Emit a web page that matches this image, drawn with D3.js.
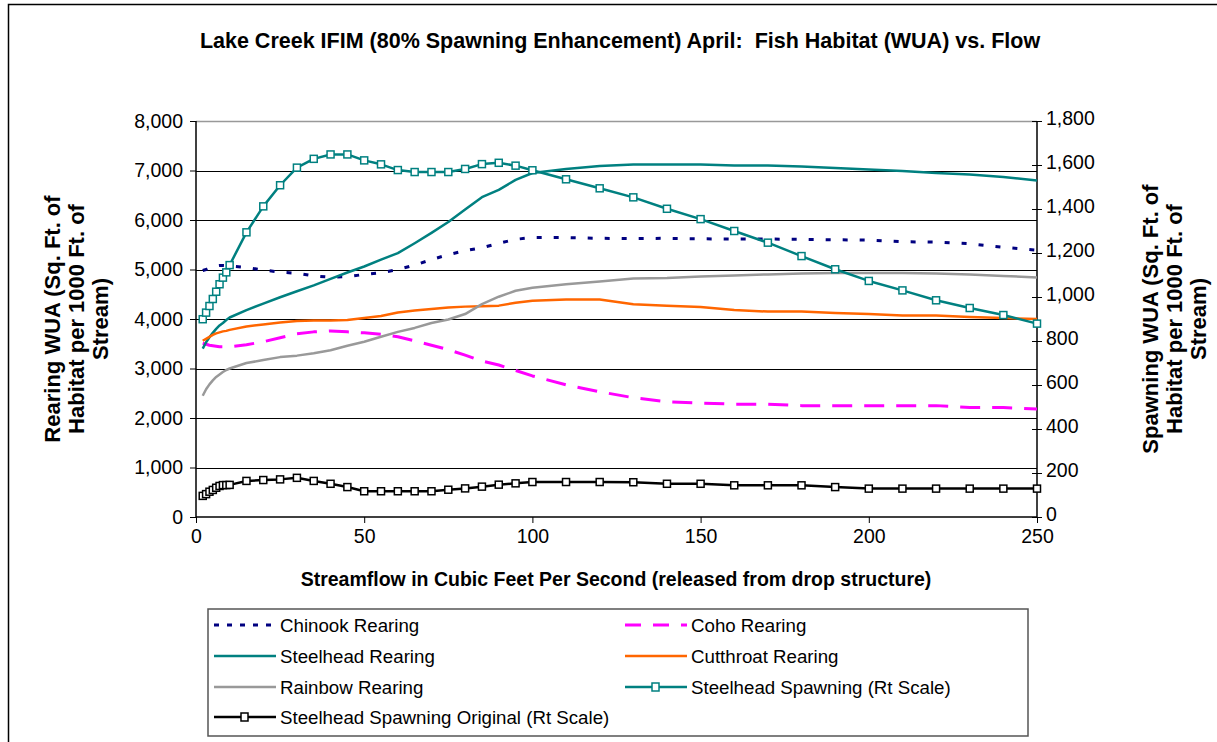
<!DOCTYPE html>
<html>
<head>
<meta charset="utf-8">
<script src="https://cdn.jsdelivr.net/npm/d3@7"></script>
<style>
  html, body { margin: 0; padding: 0; background: #fff; }
  svg { display: block; font-family: "Liberation Sans", Arial, sans-serif; }
</style>
</head>
<body>
<svg id="chart" width="1217" height="742"></svg>
<script>
// Streamflow (cfs) at which every habitat series was evaluated
const flows = [2, 3, 4, 5, 6, 7, 8, 9, 10, 15, 20, 25, 30, 35, 40, 45, 50, 55, 60, 65, 70, 75,
  80, 85, 90, 95, 100, 110, 120, 130, 140, 150, 160, 170, 180, 190, 200, 210, 220, 230, 240, 250];

// Rearing WUA (left scale)
const chinookRearing = [4980, 5000, 5030, 5050, 5070, 5080, 5080, 5075, 5070, 5040, 4990, 4945, 4925,
  4870, 4845, 4855, 4900, 4935, 5000, 5090, 5200, 5300, 5380, 5440, 5530, 5610, 5645, 5645, 5630,
  5625, 5630, 5620, 5615, 5615, 5610, 5600, 5595, 5560, 5555, 5520, 5450, 5390];
const cohoRearing = [3510, 3490, 3470, 3460, 3450, 3440, 3440, 3440, 3440, 3480, 3540, 3620, 3700,
  3740, 3760, 3740, 3720, 3690, 3640, 3560, 3470, 3380, 3270, 3150, 3070, 2960, 2850, 2670, 2530,
  2410, 2330, 2300, 2280, 2280, 2250, 2250, 2250, 2250, 2250, 2210, 2210, 2180];
const steelheadRearing = [3400, 3530, 3630, 3720, 3800, 3870, 3920, 3980, 4030, 4180, 4310, 4440,
  4560, 4680, 4810, 4940, 5060, 5200, 5330, 5530, 5740, 5960, 6210, 6460, 6610, 6810, 6950, 7030,
  7090, 7120, 7120, 7120, 7100, 7100, 7080, 7050, 7020, 6990, 6950, 6920, 6870, 6800];
const cutthroatRearing = [3560, 3600, 3640, 3680, 3710, 3730, 3750, 3760, 3780, 3850, 3890, 3930,
  3960, 3970, 3970, 3980, 4020, 4060, 4130, 4170, 4200, 4230, 4250, 4260, 4270, 4330, 4370, 4395,
  4395, 4300, 4270, 4240, 4180, 4150, 4150, 4120, 4100, 4070, 4070, 4040, 4020, 4000];
const rainbowRearing = [2450, 2580, 2680, 2760, 2830, 2880, 2930, 2970, 3000, 3110, 3170, 3230,
  3260, 3310, 3370, 3460, 3540, 3640, 3740, 3820, 3920, 3990, 4100, 4300, 4450, 4570, 4630, 4700,
  4760, 4820, 4830, 4860, 4880, 4900, 4920, 4930, 4930, 4930, 4920, 4900, 4870, 4840];

// Spawning WUA (right scale)
const steelheadSpawning = [899, 929, 959, 991, 1024, 1058, 1088, 1112, 1145, 1294, 1412, 1508, 1588,
  1628, 1648, 1648, 1621, 1603, 1577, 1568, 1568, 1568, 1582, 1604, 1610, 1597, 1576, 1535, 1494,
  1453, 1401, 1354, 1300, 1247, 1186, 1126, 1073, 1030, 985, 950, 918, 879];
const steelheadSpawningOriginal = [96, 104, 115, 123, 133, 141, 145, 145, 146, 164, 168, 171, 178,
  164, 151, 136, 117, 117, 117, 117, 117, 124, 130, 138, 147, 153, 159, 159, 159, 158, 151, 151,
  144, 144, 144, 136, 129, 129, 129, 129, 129, 129];

// Axis ticks
const xTicks = [0, 50, 100, 150, 200, 250];
const leftTicks = [0, 1000, 2000, 3000, 4000, 5000, 6000, 7000, 8000];
const rightTicks = [0, 200, 400, 600, 800, 1000, 1200, 1400, 1600, 1800];

const titleText = "Lake Creek IFIM (80% Spawning Enhancement) April:  Fish Habitat (WUA) vs. Flow";
const leftTitle = ["Rearing WUA (Sq. Ft. of", "Habitat per 1000 Ft. of", "Stream)"];
const rightTitle = ["Spawning WUA (Sq. Ft. of", "Habitat per 1000 Ft. of", "Stream)"];
const xTitle = "Streamflow in Cubic Feet Per Second (released from drop structure)";

const series = [
  { name: "Chinook Rearing", values: chinookRearing, axis: "left", color: "#000080", width: 3, dash: "5,12" },
  { name: "Coho Rearing", values: cohoRearing, axis: "left", color: "#FF00FF", width: 3, dash: "20,12" },
  { name: "Steelhead Rearing", values: steelheadRearing, axis: "left", color: "#008080", width: 2.5, dash: null },
  { name: "Cutthroat Rearing", values: cutthroatRearing, axis: "left", color: "#FF6600", width: 2.5, dash: null },
  { name: "Rainbow Rearing", values: rainbowRearing, axis: "left", color: "#999999", width: 2.5, dash: null },
  { name: "Steelhead Spawning (Rt Scale)", values: steelheadSpawning, axis: "right", color: "#008080", width: 2.5, dash: null, marker: true },
  { name: "Steelhead Spawning Original (Rt Scale)", values: steelheadSpawningOriginal, axis: "right", color: "#000000", width: 2.5, dash: null, marker: true }
];

const svg = d3.select("#chart");
const plot = { left: 196, right: 1037, top: 121, bottom: 517 };

const x = d3.scaleLinear().domain([0, 250]).range([plot.left, plot.right]);
const yL = d3.scaleLinear().domain([0, 8000]).range([plot.bottom, plot.top]);
const yR = d3.scaleLinear().domain([0, 1800]).range([plot.bottom, plot.top]);

// Chart frame
svg.append("rect").attr("x", 8.5).attr("y", 4.5).attr("width", 1240).attr("height", 760)
  .attr("fill", "#fff").attr("stroke", "#000").attr("stroke-width", 1.5);

// Title
svg.append("text").attr("x", 620).attr("y", 48).attr("text-anchor", "middle")
  .style("white-space", "pre")
  .attr("font-size", 21.5).attr("font-weight", "bold").text(titleText);

// Plot area border (top) and horizontal gridlines
svg.append("line").attr("x1", plot.left).attr("x2", plot.right)
  .attr("y1", plot.top + 0.5).attr("y2", plot.top + 0.5).attr("stroke", "#999").attr("stroke-width", 1.5);
svg.append("g").selectAll("line").data(leftTicks.filter(d => d > 0 && d < 8000)).join("line")
  .attr("x1", plot.left).attr("x2", plot.right)
  .attr("y1", d => Math.round(yL(d)) + 0.5).attr("y2", d => Math.round(yL(d)) + 0.5)
  .attr("stroke", "#000").attr("stroke-width", 1);

// Axes
const fmt = d3.format(",");
const gLeft = svg.append("g").attr("transform", `translate(${plot.left},0)`)
  .call(d3.axisLeft(yL).tickValues(leftTicks).tickFormat(fmt).tickSize(6).tickPadding(7));
const gRight = svg.append("g").attr("transform", `translate(${plot.right},0)`)
  .call(d3.axisRight(yR).tickValues(rightTicks).tickFormat(fmt).tickSize(5).tickPadding(4));
gRight.selectAll(".tick line").attr("x1", -5);
gRight.selectAll(".tick text").attr("dy", "0.2em");
const gX = svg.append("g").attr("transform", `translate(0,${plot.bottom})`)
  .call(d3.axisBottom(x).tickValues(xTicks).tickFormat(d3.format("d")).tickSize(6));
gX.selectAll(".tick text").attr("y", 12).attr("dy", "0.71em");

[gLeft, gRight, gX].forEach(g => {
  g.select(".domain").attr("stroke", "#000").attr("stroke-width", 1.5);
  g.selectAll(".tick line").attr("stroke", "#000").attr("stroke-width", 1);
  g.selectAll(".tick text").attr("font-size", 19.5).attr("fill", "#000")
    .style("font-family", '"Liberation Sans", Arial, sans-serif');
});
gLeft.select(".domain").attr("d", `M0,${plot.top}V${plot.bottom}`);
gRight.select(".domain").attr("d", `M0,${plot.top}V${plot.bottom}`);
gX.select(".domain").attr("d", `M${plot.left},0H${plot.right}`);

// Axis titles
const lt = svg.append("text").attr("transform", "translate(0,319) rotate(-90)")
  .attr("text-anchor", "middle").attr("font-size", 22).attr("font-weight", "bold");
leftTitle.forEach((t, i) => lt.append("tspan").attr("x", 0).attr("y", 60 + i * 24).text(t));
const rt = svg.append("text").attr("transform", "translate(0,319) rotate(-90)")
  .attr("text-anchor", "middle").attr("font-size", 22).attr("font-weight", "bold");
rightTitle.forEach((t, i) => rt.append("tspan").attr("x", 0).attr("y", 1158 + i * 24).text(t));
svg.append("text").attr("x", 616).attr("y", 586).attr("text-anchor", "middle")
  .attr("font-size", 19.5).attr("font-weight", "bold").text(xTitle);

// Series lines
const linesG = svg.append("g");
series.forEach(s => {
  const ys = s.axis === "left" ? yL : yR;
  const pts = flows.map((f, i) => [f, s.values[i]]);
  const line = d3.line().x(d => x(d[0])).y(d => ys(d[1]));
  linesG.append("path").datum(pts).attr("d", line).attr("fill", "none")
    .attr("stroke", s.color).attr("stroke-width", s.width)
    .attr("stroke-dasharray", s.dash).attr("stroke-linejoin", "round");
  if (s.marker) {
    linesG.append("g").selectAll("rect").data(pts).join("rect")
      .attr("x", d => x(d[0]) - 3.5).attr("y", d => ys(d[1]) - 3.5)
      .attr("width", 7).attr("height", 7)
      .attr("fill", "#fff").attr("stroke", s.color).attr("stroke-width", 1.5);
  }
});

// Legend
const legend = svg.append("g");
legend.append("rect").attr("x", 208).attr("y", 609).attr("width", 820).attr("height", 127)
  .attr("fill", "#fff").attr("stroke", "#555").attr("stroke-width", 1.5);
const legendPos = [
  [214, 625], [625, 625],
  [214, 656], [625, 656],
  [214, 687], [625, 687],
  [214, 717]
];
series.forEach((s, i) => {
  const [lx, ly] = legendPos[i];
  const g = legend.append("g");
  g.append("line").attr("x1", lx).attr("x2", lx + 62).attr("y1", ly).attr("y2", ly)
    .attr("stroke", s.color).attr("stroke-width", s.width)
    .attr("stroke-dasharray", s.dash === "5,12" ? "5,8" : (s.dash ? "16,12" : null));
  if (s.marker) {
    g.append("rect").attr("x", lx + 27).attr("y", ly - 4).attr("width", 7).attr("height", 8)
      .attr("fill", "#fff").attr("stroke", s.color).attr("stroke-width", 1.5);
  }
  g.append("text").attr("x", lx + 66).attr("y", ly + 6.5).attr("font-size", 18.7).text(s.name);
});
</script>
</body>
</html>
